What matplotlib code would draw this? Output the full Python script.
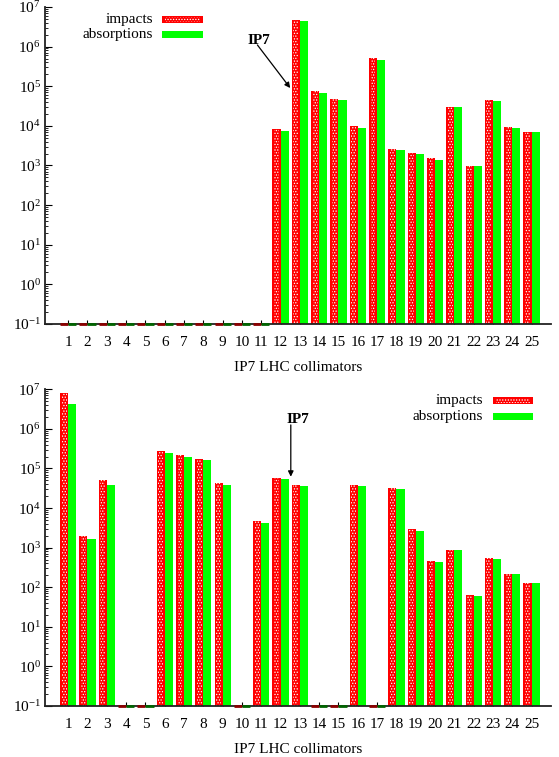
import numpy as np
import matplotlib
matplotlib.use("Agg")
import matplotlib.pyplot as plt
from matplotlib.patches import Rectangle
from matplotlib.ticker import LogLocator, LogFormatterSciNotation, NullFormatter

plt.rcParams["font.family"] = "Liberation Serif"
plt.rcParams["mathtext.fontset"] = "stix"
plt.rcParams["hatch.linewidth"] = 0.6

collimators = np.arange(1, 26)

# upper run: losses only downstream of collimator 11
impacts_a = [0, 0, 0, 0, 0, 0, 0, 0, 0, 0, 0,
             8.1e3, 4.7e6, 7.6e4, 4.7e4, 9.8e3, 5.1e5, 2.6e3, 2.1e3, 1.53e3,
             3.0e4, 980, 4.4e4, 9.1e3, 6.9e3]
absorptions_a = [0, 0, 0, 0, 0, 0, 0, 0, 0, 0, 0,
                 7.6e3, 4.3e6, 6.9e4, 4.4e4, 8.9e3, 4.6e5, 2.4e3, 2.0e3, 1.38e3,
                 2.95e4, 960, 4.3e4, 8.9e3, 6.8e3]

# lower run
impacts_b = [8.2e6, 2.0e3, 5.2e4, 0, 0, 2.7e5, 2.2e5, 1.74e5, 4.3e4, 0,
             4.6e3, 5.9e4, 3.8e4, 0, 0, 3.9e4, 0, 3.2e4, 2.9e3, 460,
             870, 62, 540, 218, 129]
absorptions_b = [4.2e6, 1.66e3, 3.8e4, 0, 0, 2.5e5, 1.96e5, 1.6e5, 3.8e4, 0,
                 4.2e3, 5.4e4, 3.6e4, 0, 0, 3.6e4, 0, 3.0e4, 2.6e3, 430,
                 860, 61, 525, 215, 127]

RED = "#ff0000"
GREEN = "#00ff00"
DOTS = "#ffffff"
HATCH = "......"
YMIN, YMAX = 0.1, 1e7
W = 0.42


def draw_panel(ax, imp, ab):
    imp = np.array(imp, float)
    ab = np.array(ab, float)
    ax.set_yscale("log")
    ax.set_ylim(YMIN, YMAX)
    ax.set_xlim(-0.2, 26.0)

    ok = imp > 0
    ax.bar(collimators[ok] - W / 2, imp[ok], width=W, bottom=YMIN,
           color=RED, linewidth=0, zorder=2)
    # dotted fill pattern in the middle of the impact bars
    ax.bar(collimators[ok] - W / 2, imp[ok], width=W * 0.6, bottom=YMIN,
           facecolor="none", edgecolor=DOTS, linewidth=0, hatch=HATCH, zorder=2)
    ok = ab > 0
    ax.bar(collimators[ok] + W / 2, ab[ok], width=W, bottom=YMIN,
           color=GREEN, linewidth=0, zorder=2)

    # empty collimators show up as a flat stub on the axis
    z = imp <= 0
    ax.hlines(np.full(z.sum(), YMIN), collimators[z] - W, collimators[z],
              colors="#8b0000", lw=2.0, zorder=3, clip_on=False)
    z = ab <= 0
    ax.hlines(np.full(z.sum(), YMIN), collimators[z], collimators[z] + W,
              colors="#006400", lw=2.0, zorder=3, clip_on=False)

    for s in ("top", "right"):
        ax.spines[s].set_visible(False)
    for s in ("left", "bottom"):
        ax.spines[s].set_linewidth(1.3)
        ax.spines[s].set_color("#222222")

    ax.set_xticks(collimators)
    ax.set_xticklabels([str(c) for c in collimators])
    ax.tick_params(axis="x", direction="in", length=3, pad=9, labelsize=11)
    ax.yaxis.set_major_locator(LogLocator(base=10, numticks=12))
    ax.yaxis.set_major_formatter(LogFormatterSciNotation())
    ax.yaxis.set_minor_locator(LogLocator(base=10, subs=np.arange(2, 10), numticks=12))
    ax.yaxis.set_minor_formatter(NullFormatter())
    ax.tick_params(axis="y", which="major", direction="in", length=5, labelsize=11, pad=3)
    ax.tick_params(axis="y", which="minor", direction="in", length=2.5)
    ax.set_xlabel("IP7 LHC collimators", fontsize=11, labelpad=8)


def draw_key(ax, x_text, y1, y2, x0, x1):
    for y, lab, col in ((y1, "impacts", RED), (y2, "absorptions", GREEN)):
        ax.text(x_text, y, lab, transform=ax.transAxes, ha="right",
                va="center", fontsize=11)
        ax.add_patch(Rectangle((x0, y - 0.011), x1 - x0, 0.022,
                               transform=ax.transAxes, facecolor=col,
                               linewidth=0, clip_on=False))
        if col == RED:
            ax.add_patch(Rectangle((x0 + 0.006, y - 0.007), x1 - x0 - 0.012, 0.014,
                                   transform=ax.transAxes, facecolor="none",
                                   edgecolor=DOTS, linewidth=0, hatch=HATCH,
                                   clip_on=False))


fig = plt.figure(figsize=(5.59, 7.57), dpi=100)
ax1 = fig.add_axes([0.0805, 0.572, 0.905, 0.4188])
ax2 = fig.add_axes([0.0805, 0.0674, 0.905, 0.4183])

draw_panel(ax1, impacts_a, absorptions_a)
draw_panel(ax2, impacts_b, absorptions_b)

draw_key(ax1, 0.2134, 0.9606, 0.914, 0.231, 0.312)
draw_key(ax2, 0.8656, 0.964, 0.9157, 0.885, 0.965)

arrow = dict(arrowstyle="-|>", color="black", lw=0.9, mutation_scale=8,
             shrinkA=0, shrinkB=0)
ax1.annotate("", xy=(12.5, 9e4), xytext=(10.8, 1.1e6), arrowprops=arrow)
ax1.text(10.27, 1.45e6, "IP7", fontsize=11, fontweight="bold", va="center")
ax2.annotate("", xy=(12.53, 6.2e4), xytext=(12.53, 1.26e6), arrowprops=arrow)
ax2.text(12.3, 1.68e6, "IP7", fontsize=11, fontweight="bold", va="center")

fig.savefig("out.png", dpi=100)
